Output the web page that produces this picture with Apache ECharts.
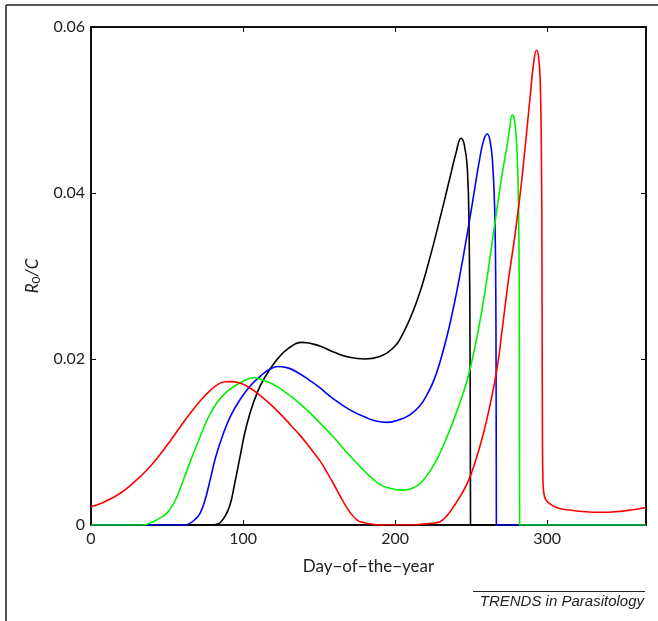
<!DOCTYPE html>
<html>
<head>
<meta charset="utf-8">
<script src="https://cdn.jsdelivr.net/npm/echarts@6/dist/echarts.min.js"></script>
<style>
  html, body { margin: 0; padding: 0; background: #fff; }
  #chart { width: 658px; height: 621px; }
</style>
</head>
<body>
<div id="chart"></div>
<script>
// day-of-year / R0/C readings for the four curves
const blackDays = [0, 40, 80, 82.5, 85, 88, 91.4, 94.5, 98, 101, 104.6, 109, 113.4, 122.2, 130, 139, 150, 160, 170, 180, 190, 198, 205, 214, 222, 230, 236, 240, 243.4, 245.5, 247.5, 248.7, 249.3, 249.6, 252, 260, 300, 365];
const blackVals = [0, 0, 0, 0.0001, 0.0003, 0.001, 0.0024, 0.005, 0.0082, 0.011, 0.0135, 0.0158, 0.0175, 0.0199, 0.0213, 0.022, 0.0216, 0.0208, 0.0202, 0.02, 0.0203, 0.0212, 0.023, 0.0268, 0.0316, 0.0373, 0.0418, 0.0448, 0.0466, 0.0458, 0.043, 0.035, 0.02, 0, 0, 0, 0, 0];

const blueDays = [0, 30, 62, 65, 68, 71.7, 75, 78.3, 82, 87, 92, 98, 104, 111.2, 117, 123.2, 130, 137.5, 144, 150, 159.4, 170, 181.4, 188, 195, 203, 210, 216, 221, 225.2, 229, 235.5, 242.3, 249.3, 255.9, 258.5, 260.7, 262.5, 264, 265.5, 266.3, 266.6, 269, 277, 310, 365];
const blueVals = [0, 0, 0, 0.0002, 0.0006, 0.0014, 0.003, 0.0054, 0.0082, 0.011, 0.0132, 0.0151, 0.0166, 0.0179, 0.0187, 0.0191, 0.0189, 0.0182, 0.0174, 0.0166, 0.0152, 0.0139, 0.0129, 0.0125, 0.01237, 0.0127, 0.0133, 0.0143, 0.0157, 0.0173, 0.0193, 0.0238, 0.0298, 0.0371, 0.0444, 0.0465, 0.0471, 0.0462, 0.044, 0.038, 0.025, 0, 0, 0, 0, 0];

const greenDays = [0, 15, 33, 37, 41, 45, 49.8, 55, 60.7, 66, 71.7, 77, 82.7, 89, 95.8, 101, 106.8, 114, 122.2, 130, 137.5, 144, 150, 159.4, 170, 181.4, 190, 197, 204.4, 211, 216.4, 223, 228, 233, 239, 245, 249.3, 254, 258.8, 263, 266.9, 270.5, 273.5, 275.5, 277, 278.5, 280, 281, 281.6, 281.9, 284, 292, 320, 365];
const greenVals = [0, 0, 0, 0.0001, 0.0004, 0.0008, 0.0014, 0.0028, 0.0054, 0.008, 0.0106, 0.0129, 0.0147, 0.016, 0.0169, 0.0174, 0.01775, 0.0174, 0.0167, 0.0157, 0.0146, 0.0135, 0.0124, 0.0106, 0.0084, 0.0062, 0.0049, 0.0044, 0.0042, 0.0044, 0.005, 0.0065, 0.0081, 0.0101, 0.0129, 0.016, 0.0188, 0.0228, 0.0278, 0.033, 0.038, 0.0424, 0.0456, 0.048, 0.0494, 0.0488, 0.0456, 0.04, 0.03, 0, 0, 0, 0, 0];

const redDays = [0, 5, 10, 19, 28, 36.6, 45, 52, 58.6, 65, 72, 78.3, 84, 88, 91.4, 98, 104.6, 112, 120, 126.5, 132, 137.5, 144, 150.7, 155, 159.4, 165, 170.4, 175, 179.1, 185, 190, 200, 212, 218, 224, 229.6, 234, 238.4, 244, 249.3, 255, 260.3, 266.9, 270.5, 274.5, 278.5, 282.2, 285.5, 288.8, 291, 293, 294.3, 295.4, 296.2, 296.6, 296.9, 297.2, 297.6, 299, 303, 308, 315, 325, 335, 345, 355, 365];
const redVals = [0.0022, 0.0025, 0.0029, 0.0038, 0.0051, 0.0066, 0.0084, 0.0101, 0.0118, 0.0134, 0.015, 0.0162, 0.017, 0.01725, 0.01727, 0.0171, 0.0165, 0.0155, 0.0142, 0.013, 0.0119, 0.0108, 0.0093, 0.0077, 0.0064, 0.005, 0.0031, 0.0015, 0.0006, 0.0003, 0.0001, 0, 0, 0, 0.0001, 0.0002, 0.0004, 0.0011, 0.0022, 0.0038, 0.0058, 0.009, 0.0127, 0.0187, 0.0237, 0.0295, 0.0345, 0.0398, 0.0455, 0.0516, 0.0555, 0.0572, 0.0565, 0.0536, 0.045, 0.03, 0.01, 0.0055, 0.0042, 0.0031, 0.0024, 0.002, 0.0018, 0.0016, 0.00153, 0.0016, 0.0018, 0.0021];

const xTicks = [0, 100, 200, 300];
const yTicks = [0, 0.02, 0.04, 0.06];

const zip = (xs, ys) => xs.map((x, i) => [x, ys[i]]);

const chart = echarts.init(document.getElementById('chart'));

const curve = (name, color, days, vals, z) => ({
  name,
  type: 'line',
  data: zip(days, vals),
  showSymbol: false,
  smooth: 0.45,
  clip: true,
  z,
  lineStyle: { color, width: 1.6 },
  emphasis: { disabled: true },
  animation: false,
});

const labelFont = { fontFamily: 'Lato', fontSize: 16, color: '#222' };
const boxAxis = {
  axisLine: { show: true, onZero: false, lineStyle: { color: '#000', width: 1.5 } },
  axisTick: { show: true, inside: true, length: 5, lineStyle: { color: '#000' } },
  splitLine: { show: false },
};

chart.setOption({
  animation: false,
  grid: { left: 91, top: 27, right: 12, bottom: 96, show: true, borderColor: '#000', borderWidth: 1.5 },
  graphic: [
    { type: 'line', shape: { x1: 6, y1: 5, x2: 658, y2: 5 }, style: { stroke: '#555', lineWidth: 2 } },
    { type: 'line', shape: { x1: 6, y1: 5, x2: 6, y2: 621 }, style: { stroke: '#555', lineWidth: 2 } },
    { type: 'line', shape: { x1: 473, y1: 591.5, x2: 645, y2: 591.5 }, style: { stroke: '#222', lineWidth: 1 } },
    {
      type: 'text', right: 14, top: 594,
      style: { text: 'TRENDS in Parasitology', font: 'italic 15px "Liberation Sans"', fill: '#222' }
    }
  ],
  xAxis: [
    {
      type: 'value', min: 0, max: 365, interval: 100,
      name: 'Day\u2212of\u2212the\u2212year', nameLocation: 'middle', nameGap: 33,
      nameTextStyle: { fontFamily: 'Lato', fontSize: 17, color: '#222' },
      ...boxAxis,
      axisLabel: { ...labelFont, margin: 6, formatter: v => (xTicks.includes(v) ? String(v) : '') },
    },
    {
      type: 'value', min: 0, max: 365, interval: 100, position: 'top',
      ...boxAxis,
      axisLabel: { show: false },
    }
  ],
  yAxis: [
    {
      type: 'value', min: 0, max: 0.06, interval: 0.02,
      name: '{i|R}{s|0}{i|/C}', nameLocation: 'middle', nameGap: 46, nameRotate: 90,
      nameTextStyle: {
        rich: {
          i: { fontFamily: 'Lato', fontStyle: 'italic', fontSize: 17, color: '#222' },
          s: { fontFamily: 'Lato', fontSize: 12, color: '#222', verticalAlign: 'bottom', padding: [8, 0, 0, 0] }
        }
      },
      ...boxAxis,
      axisLabel: {
        ...labelFont, margin: 6,
        formatter: v => {
          const t = yTicks.find(k => Math.abs(k - v) < 1e-9);
          return t === undefined ? '' : (t === 0 ? '0' : t.toFixed(2));
        }
      },
    },
    {
      type: 'value', min: 0, max: 0.06, interval: 0.02, position: 'right',
      ...boxAxis,
      axisLabel: { show: false },
    }
  ],
  series: [
    curve('black', '#000000', blackDays, blackVals, 2),
    curve('blue', '#0000ff', blueDays, blueVals, 3),
    curve('green', '#00f000', greenDays, greenVals, 4),
    curve('red', '#ff0000', redDays, redVals, 5),
  ],
});
</script>
</body>
</html>
